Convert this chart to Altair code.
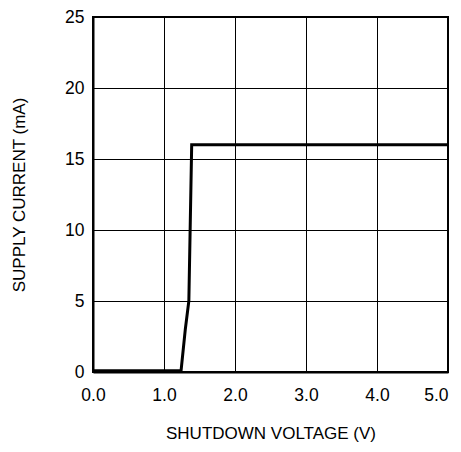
import altair as alt
import pandas as pd

voltage = [0.0, 1.24, 1.30, 1.35, 1.39, 5.0]
current = [0.08, 0.08, 3.0, 5.0, 16.0, 16.0]

df = pd.DataFrame({"v": voltage, "i": current})

chart = alt.Chart(df).mark_line(color="black", strokeWidth=3, clip=True).encode(
    x=alt.X("v:Q", scale=alt.Scale(domain=[0, 5], nice=False),
            axis=alt.Axis(title="SHUTDOWN VOLTAGE (V)", values=[0, 1, 2, 3, 4, 5],
                          format=".1f", titlePadding=22, labelPadding=14,
                          labelAlign=alt.expr("datum.value == 5 ? 'right' : 'center'"),
                          labelFlush=False, labelOverlap=False)),
    y=alt.Y("i:Q", scale=alt.Scale(domain=[0, 25], nice=False),
            axis=alt.Axis(title="SUPPLY CURRENT (mA)", values=[0, 5, 10, 15, 20, 25],
                          titlePadding=36, labelPadding=9,
                          labelFlush=False, labelOverlap=False)),
).properties(
    width=355, height=355,
    background="white",
    autosize=alt.AutoSizeParams(type="none"),
    padding={"left": 85, "top": 9, "right": 5, "bottom": 72},
).configure_view(
    stroke="black", strokeWidth=2
).configure_axis(
    grid=True, gridColor="black", gridWidth=1, gridOpacity=1,
    domain=True, domainColor="black", domainWidth=2,
    ticks=False,
    labelFont="Liberation Sans", labelFontSize=17.5, labelColor="black",
    titleFont="Liberation Sans", titleFontSize=17, titleFontWeight="normal", titleColor="black",
)

chart.save("out.html", embed_options={"renderer": "svg", "actions": False})
